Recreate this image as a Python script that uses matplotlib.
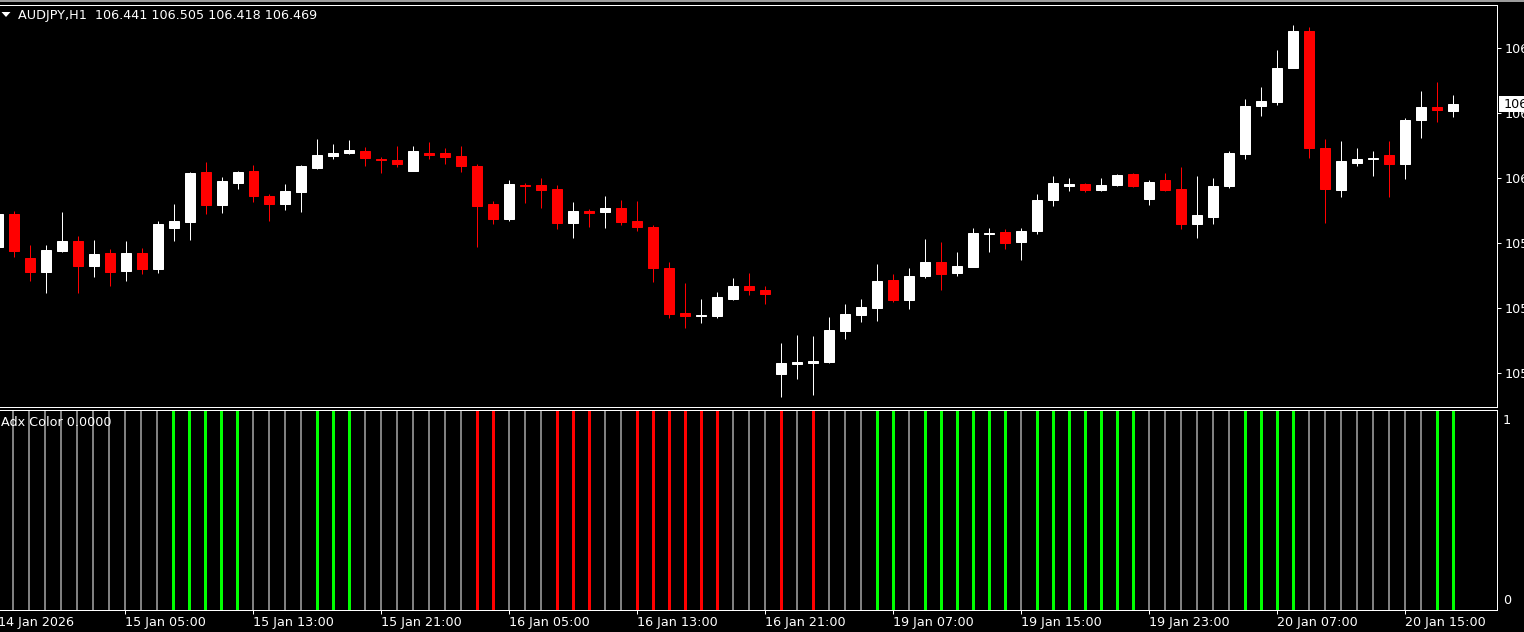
import matplotlib
matplotlib.use("Agg")
import matplotlib.pyplot as plt
from matplotlib.patches import Rectangle, Polygon
from matplotlib.transforms import blended_transform_factory

W, H, DPI = 1524, 632, 100

# ---------------- data ----------------
symbol = "AUDJPY,H1"
bar_index = list(range(-1, 91))

opens = [105.897, 106.029, 105.853, 105.797, 105.881, 105.921, 105.821, 105.873, 105.801, 105.873,
         105.809, 105.973, 105.997, 106.197, 106.065, 106.153, 106.201, 106.101, 106.069, 106.117,
         106.213, 106.261, 106.273, 106.281, 106.249, 106.245, 106.201, 106.273, 106.273, 106.261,
         106.221, 106.069, 106.009, 106.145, 106.145, 106.129, 105.993, 106.041, 106.037, 106.053,
         106.001, 105.977, 105.813, 105.633, 105.621, 105.621, 105.689, 105.741, 105.725, 105.389,
         105.429, 105.433, 105.437, 105.561, 105.625, 105.653, 105.765, 105.685, 105.781, 105.837,
         105.793, 105.817, 105.949, 105.957, 105.917, 105.961, 106.085, 106.141, 106.149, 106.125,
         106.145, 106.189, 106.089, 106.165, 106.129, 105.989, 106.017, 106.141, 106.269, 106.461,
         106.477, 106.613, 106.761, 106.293, 106.125, 106.233, 106.249, 106.265, 106.229, 106.405,
         106.457, 106.441]
highs = [106.041, 106.041, 105.905, 105.905, 106.037, 105.941, 105.925, 105.889, 105.921, 105.893,
         106.001, 106.069, 106.197, 106.237, 106.177, 106.201, 106.225, 106.109, 106.149, 106.225,
         106.329, 106.309, 106.325, 106.297, 106.257, 106.301, 106.301, 106.317, 106.293, 106.301,
         106.229, 106.081, 106.165, 106.153, 106.173, 106.145, 106.077, 106.049, 106.101, 106.085,
         106.081, 105.985, 105.837, 105.753, 105.689, 105.717, 105.773, 105.793, 105.741, 105.513,
         105.545, 105.541, 105.617, 105.669, 105.689, 105.829, 105.789, 105.813, 105.929, 105.917,
         105.877, 105.973, 105.973, 105.969, 105.973, 106.109, 106.181, 106.173, 106.153, 106.173,
         106.189, 106.193, 106.165, 106.193, 106.217, 106.181, 106.173, 106.281, 106.489, 106.537,
         106.685, 106.785, 106.777, 106.329, 106.321, 106.293, 106.281, 106.321, 106.413, 106.521,
         106.557, 106.505]
lows = [105.885, 105.857, 105.761, 105.713, 105.877, 105.713, 105.777, 105.741, 105.761, 105.789,
        105.793, 105.921, 105.925, 106.029, 106.033, 106.129, 106.077, 106.001, 106.045, 106.037,
        106.209, 106.249, 106.269, 106.221, 106.193, 106.217, 106.201, 106.249, 106.229, 106.197,
        105.897, 105.989, 106.001, 106.073, 106.053, 105.969, 105.933, 105.977, 105.973, 105.985,
        105.961, 105.757, 105.613, 105.573, 105.593, 105.613, 105.685, 105.705, 105.669, 105.297,
        105.369, 105.305, 105.433, 105.529, 105.597, 105.601, 105.677, 105.649, 105.773, 105.725,
        105.781, 105.817, 105.877, 105.889, 105.845, 105.949, 106.061, 106.121, 106.117, 106.121,
        106.141, 106.137, 106.065, 106.121, 105.969, 105.933, 105.989, 106.133, 106.249, 106.421,
        106.465, 106.613, 106.253, 105.993, 106.097, 106.221, 106.181, 106.097, 106.169, 106.333,
        106.397, 106.418]
closes = [106.029, 105.881, 105.797, 105.885, 105.921, 105.821, 105.869, 105.797, 105.873, 105.809,
          105.989, 106.001, 106.193, 106.065, 106.161, 106.197, 106.101, 106.069, 106.121, 106.221,
          106.265, 106.273, 106.285, 106.253, 106.245, 106.229, 106.281, 106.265, 106.257, 106.221,
          106.061, 106.009, 106.149, 106.141, 106.125, 105.993, 106.041, 106.033, 106.053, 105.997,
          105.977, 105.813, 105.629, 105.621, 105.625, 105.697, 105.741, 105.725, 105.709, 105.433,
          105.437, 105.441, 105.565, 105.629, 105.657, 105.761, 105.685, 105.781, 105.837, 105.789,
          105.821, 105.953, 105.953, 105.913, 105.961, 106.085, 106.153, 106.149, 106.125, 106.145,
          106.185, 106.141, 106.157, 106.125, 105.989, 106.025, 106.141, 106.273, 106.461, 106.481,
          106.613, 106.761, 106.293, 106.129, 106.241, 106.249, 106.253, 106.229, 106.405, 106.457,
          106.445, 106.469]

# Adx Color indicator: 1 = up (green), -1 = down (red), 0 = neutral (gray); bars 0..90
adx_index = list(range(0, 91))
adx_signal = [0, 0, 0, 0, 0, 0, 0, 0, 0, 0,
              1, 1, 1, 1, 1, 0, 0, 0, 0, 1,
              1, 1, 0, 0, 0, 0, 0, 0, 0, -1,
              -1, 0, 0, 0, -1, -1, -1, 0, 0, -1,
              -1, -1, -1, -1, -1, 0, 0, 0, -1, 0,
              -1, 0, 0, 0, 1, 1, 0, 1, 1, 1,
              1, 1, 1, 0, 1, 1, 1, 1, 1, 1,
              1, 0, 0, 0, 0, 0, 0, 1, 1, 1,
              1, 0, 0, 0, 0, 0, 0, 0, 0, 1,
              1]
adx_level = 1.0

price_ticks = [106.694, 106.434, 106.174, 105.914, 105.654, 105.394]
time_tick_index = [7, 15, 23, 31, 39, 47, 55, 63, 71, 79, 87]
time_tick_labels = ["15 Jan 05:00", "15 Jan 13:00", "15 Jan 21:00", "16 Jan 05:00",
                    "16 Jan 13:00", "16 Jan 21:00", "19 Jan 07:00", "19 Jan 15:00",
                    "19 Jan 23:00", "20 Jan 07:00", "20 Jan 15:00"]
first_label_index = -1
first_label = "14 Jan 2026"

# ---------------- style ----------------
BG = "black"
UP = "white"
DOWN = "#ff0000"
NEUTRAL = "#808080"
GREEN = "#00ff00"
FS = 9.2
PX = 72.0 / DPI  # points per pixel

fig = plt.figure(figsize=(W / DPI, H / DPI), dpi=DPI, facecolor=BG)


def fy(y):
    return 1 - y / H


# top gray strip
fig.patches.append(Rectangle((0, fy(2.2)), 1, 2.2 / H, transform=fig.transFigure,
                             facecolor="#9c9c9c", edgecolor="none"))

ax = fig.add_axes([0, fy(406.5), 1497 / W, (406.5 - 4.5) / H], facecolor=BG)
ai = fig.add_axes([0, fy(610), 1496.5 / W, (610 - 409.5) / H], facecolor=BG)

xmin = -0.844
xmax = 92.72
ax.set_xlim(xmin, xmax)
ai.set_xlim(xmin, xmax)
ax.set_ylim(105.259, 106.867)
ai.set_ylim(0, 1)

# candles
body_w = 0.625
for x, o, h, l, c in zip(bar_index, opens, highs, lows, closes):
    col = UP if c >= o else DOWN
    ax.vlines(x, l, h, color=col, linewidth=1.0 * PX, zorder=2)
    ax.add_patch(Rectangle((x - body_w / 2, min(o, c)), body_w, abs(c - o),
                           facecolor=col, edgecolor=col, linewidth=1.0 * PX, zorder=3))

# indicator histogram
for x, s in zip(adx_index, adx_signal):
    if s == 1:
        col, lw = GREEN, 3.0
    elif s == -1:
        col, lw = DOWN, 3.0
    else:
        col, lw = NEUTRAL, 2.0
    ai.vlines(x, 0, adx_level, color=col, linewidth=lw * PX, zorder=2)

# spines
for a in (ax, ai):
    for side in ("top", "right", "bottom"):
        a.spines[side].set_color("white")
        a.spines[side].set_linewidth(1.0 * PX)
    a.spines["left"].set_visible(False)

# main axis ticks
ax.set_xticks([])
ax.yaxis.tick_right()
ax.set_yticks(price_ticks)
ax.set_yticklabels([f"{p:.3f}" for p in price_ticks])
ax.tick_params(axis="y", colors="white", length=4 * PX, width=1.0 * PX, pad=4 * PX,
               labelsize=FS, labelcolor="white", direction="out")

# indicator ticks
ai.set_yticks([])
ai.set_xticks(time_tick_index)
ai.set_xticklabels(time_tick_labels)
ai.tick_params(axis="x", colors="white", length=4 * PX, width=1.0 * PX, pad=2.0 * PX,
               labelsize=FS, labelcolor="white", direction="out")
for lbl in ai.get_xticklabels():
    lbl.set_horizontalalignment("left")
trans = blended_transform_factory(ai.transData, ai.transAxes)
ai.text(first_label_index + 0.06, -6.0 / (610 - 409.5), first_label,
        transform=trans, ha="left", va="top", color="white", fontsize=FS, clip_on=False)

# indicator scale labels
fig.text(1503 / W, fy(421), "1", color="white", fontsize=FS, ha="left", va="center")
fig.text(1503 / W, fy(601), "0", color="white", fontsize=FS, ha="left", va="center")

# titles
fig.patches.append(Polygon([[1.5 / W, fy(12)], [10.5 / W, fy(12)], [6 / W, fy(17)]],
                           closed=True, transform=fig.transFigure, facecolor="white",
                           edgecolor="none"))
title = f"{symbol}  {opens[-1]:.3f} {highs[-1]:.3f} {lows[-1]:.3f} {closes[-1]:.3f}"
fig.text(18 / W, fy(16), title, color="white", fontsize=FS, ha="left", va="center")
fig.text(1 / W, fy(422), "Adx Color 0.0000", color="white", fontsize=FS, ha="left", va="center")

# current price box
fig.patches.append(Rectangle((1499 / W, fy(112)), 30 / W, 15.5 / H, transform=fig.transFigure,
                             facecolor="white", edgecolor="none", zorder=5))
fig.text(1504 / W, fy(104.5), f"{closes[-1]:.3f}", color="black", fontsize=FS,
         ha="left", va="center", zorder=6)

fig.savefig("out.png", dpi=DPI, facecolor=BG)
